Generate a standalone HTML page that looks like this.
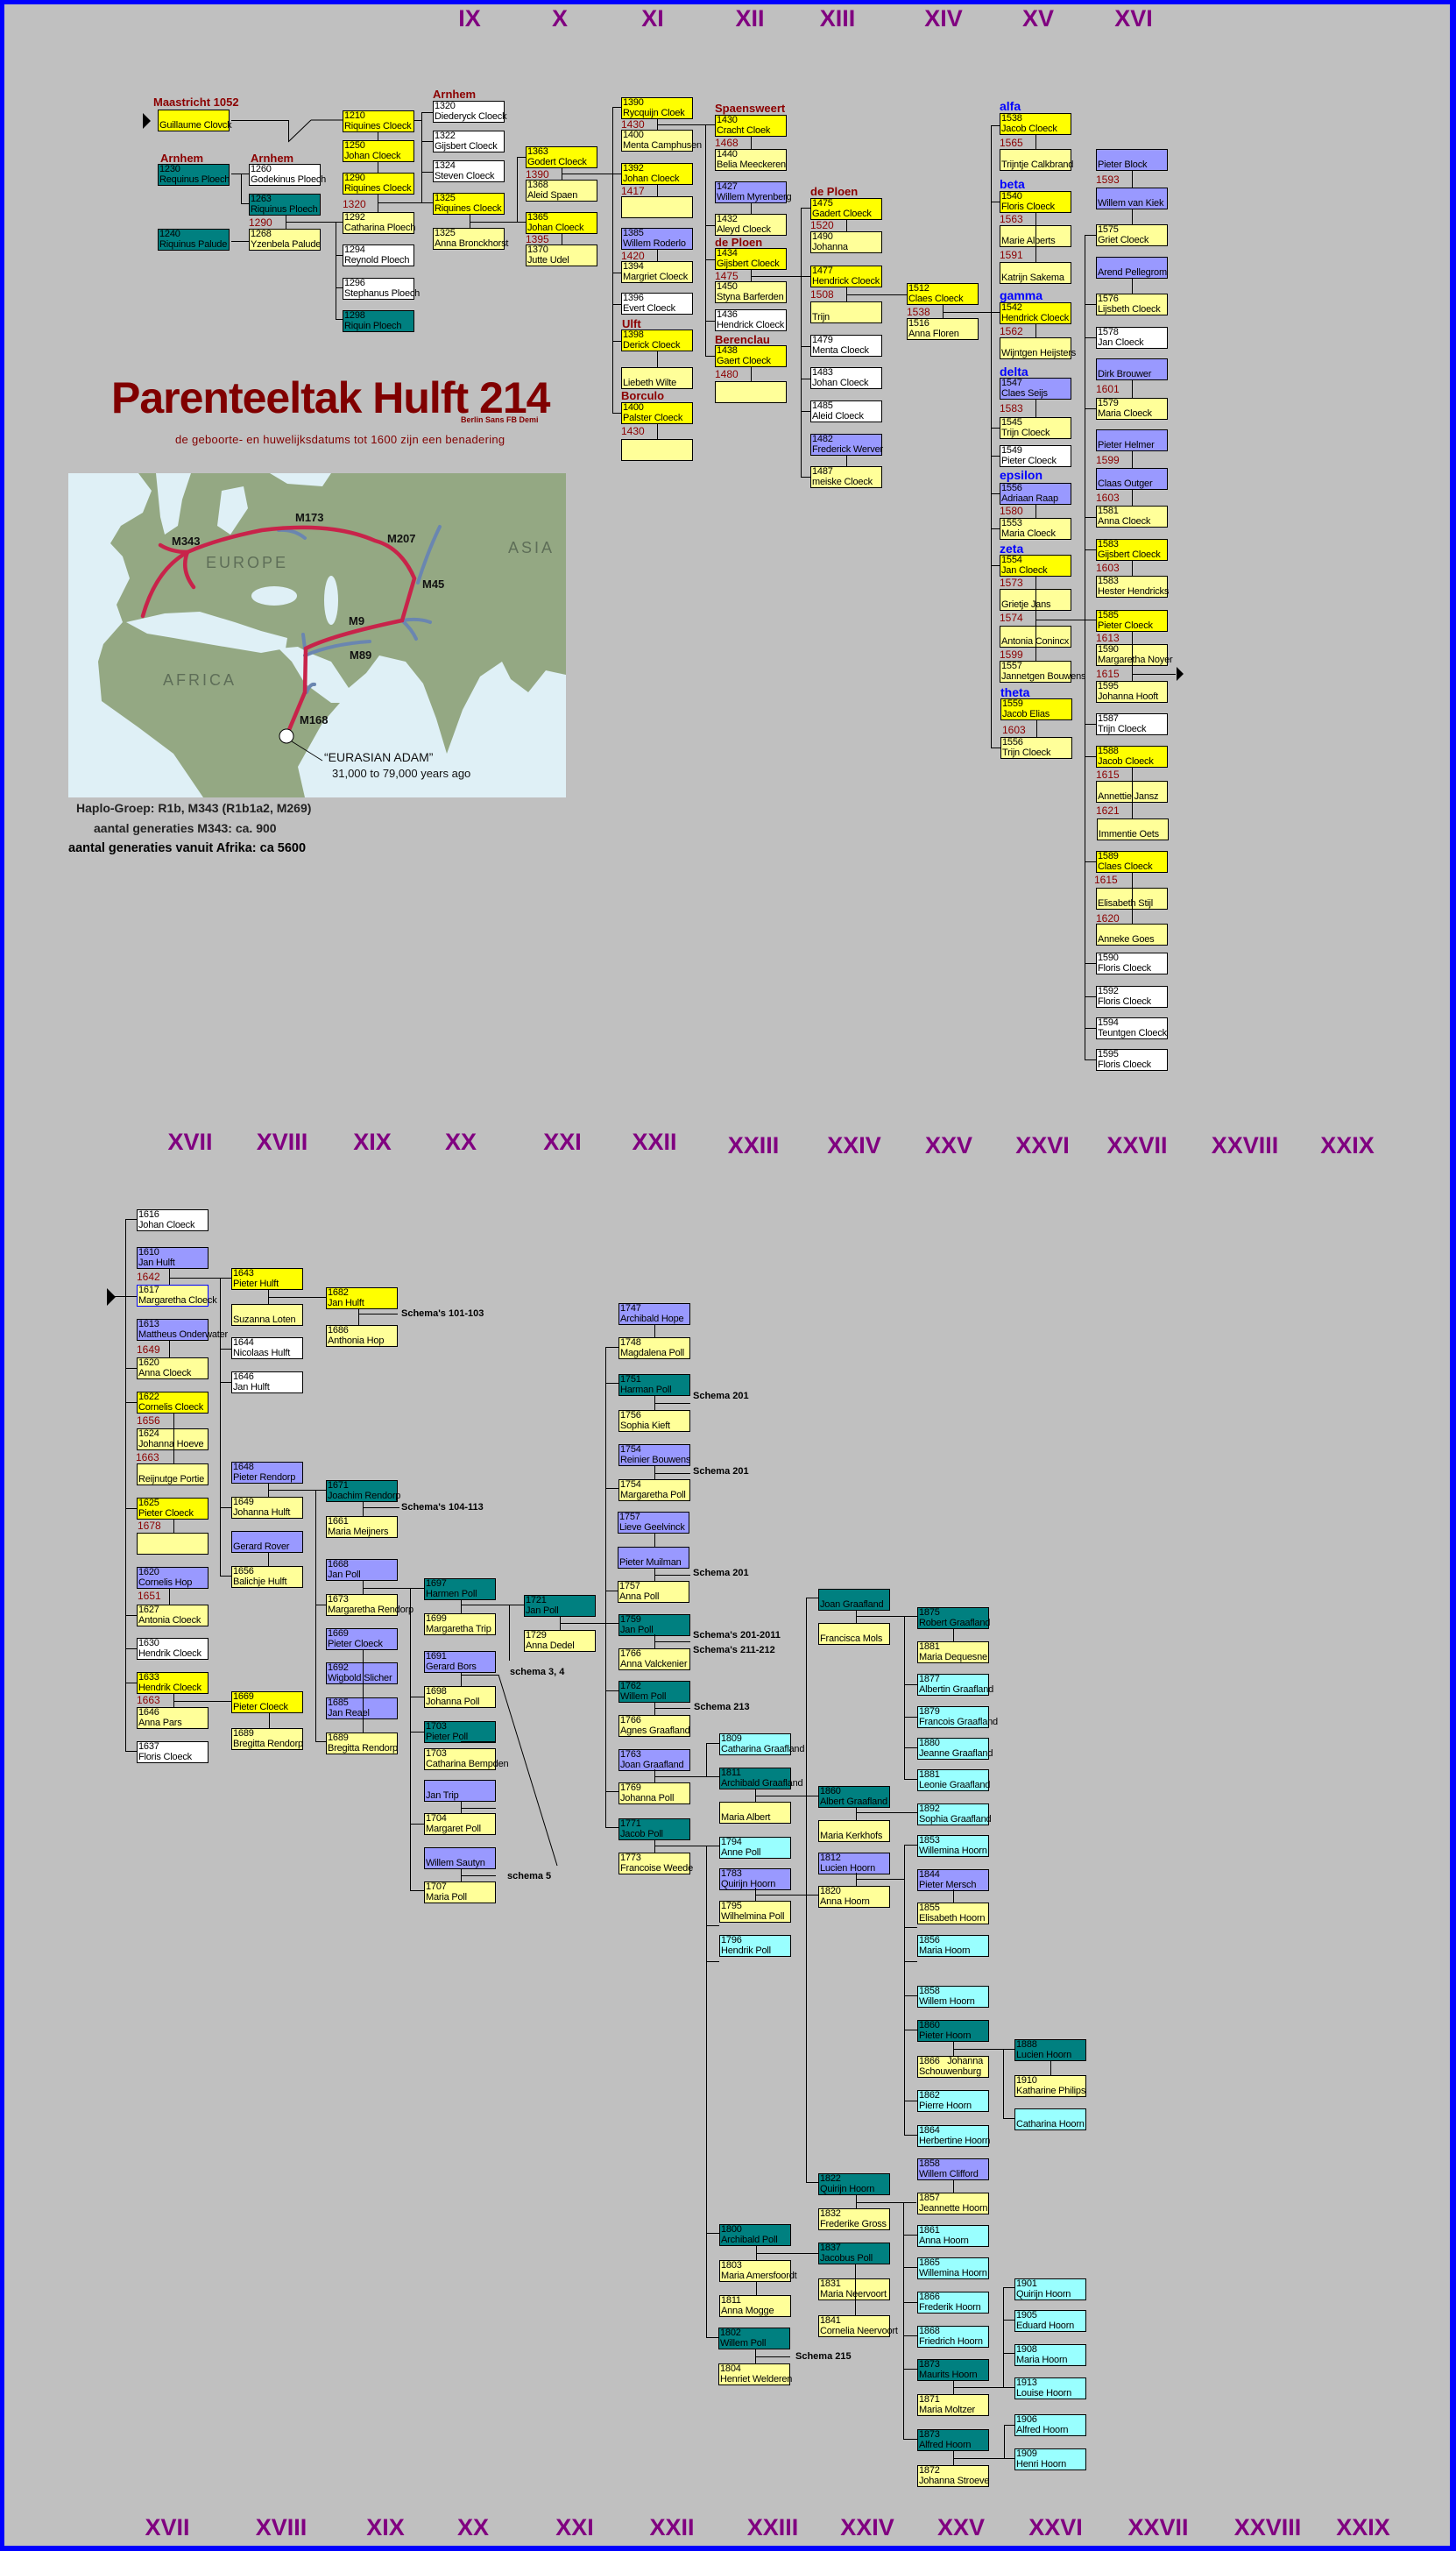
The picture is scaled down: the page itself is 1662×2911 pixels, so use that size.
<!DOCTYPE html>
<html><head><meta charset="utf-8">
<style>
*{margin:0;padding:0;box-sizing:border-box}
body{width:1662px;height:2911px;background:#0000ff;overflow:hidden;position:relative;font-family:"Liberation Sans",sans-serif}
#pg{position:absolute;left:5px;top:5px;width:1650px;height:2900px;background:#c0c0c0;overflow:hidden}
.a{position:absolute}
.b{position:absolute;width:82px;height:25px;border:1px solid #000;font-size:11px;line-height:11.5px;white-space:nowrap;padding-left:1px;color:#000;letter-spacing:-0.2px}
.y{background:#ffff00}.l{background:#ffff99}.w{background:#fff}.p{background:#9999ff}.t{background:#008080}.c{background:#99ffff}
.h{position:absolute;height:1px;background:#000}
.v{position:absolute;width:1px;background:#000}
.d{position:absolute;font-size:12px;color:#8b0000;line-height:14px}
.s{position:absolute;font-size:13px;font-weight:bold;color:#8b0000;font-family:"Liberation Sans Narrow","Liberation Sans",sans-serif;line-height:14px}
.g{position:absolute;font-size:14px;font-weight:bold;color:#0000ff;line-height:14px}
.r{position:absolute;width:120px;text-align:center;font-size:27px;font-weight:bold;color:#800080;line-height:28px}
.k{position:absolute;font-size:11px;font-weight:bold;color:#000;line-height:12px;white-space:nowrap}
</style></head><body><div id="pg">
<div style="position:absolute;left:-5px;top:-5px;width:1662px;height:2911px">

<!-- roman top -->
<div class="r" style="left:476px;top:7px">IX</div>
<div class="r" style="left:579px;top:7px">X</div>
<div class="r" style="left:685px;top:7px">XI</div>
<div class="r" style="left:796px;top:7px">XII</div>
<div class="r" style="left:896px;top:7px">XIII</div>
<div class="r" style="left:1017px;top:7px">XIV</div>
<div class="r" style="left:1125px;top:7px">XV</div>
<div class="r" style="left:1234px;top:7px">XVI</div>

<!-- top-left tree -->
<div class="s" style="left:175px;top:110px">Maastricht 1052</div>
<div class="a" style="left:163px;top:129px;width:0;height:0;border-top:9px solid transparent;border-bottom:9px solid transparent;border-left:9px solid #000"></div>
<div class="b y" style="left:180px;top:125px">&nbsp;<br>Guillaume Clovck</div>
<div class="h" style="left:264px;top:137px;width:65px"></div>
<div class="v" style="left:329px;top:137px;height:25px"></div>
<svg class="a" style="left:329px;top:136px" width="64" height="28"><line x1="0" y1="26" x2="26" y2="1" stroke="#000" stroke-width="1"/><line x1="26" y1="1" x2="62" y2="1" stroke="#000" stroke-width="1"/></svg>
<div class="s" style="left:183px;top:174px">Arnhem</div>
<div class="s" style="left:286px;top:174px">Arnhem</div>
<div class="b t" style="left:180px;top:187px">1230<br>Requinus Ploech</div>
<div class="b t" style="left:180px;top:261px">1240<br>Riquinus Palude</div>
<div class="b w" style="left:284px;top:187px">1260<br>Godekinus Ploech</div>
<div class="b t" style="left:284px;top:221px">1263<br>Riquinus Ploech</div>
<div class="d" style="left:284px;top:247px">1290</div>
<div class="b l" style="left:284px;top:261px">1268<br>Yzenbela Palude</div>
<div class="h" style="left:264px;top:198px;width:20px"></div>
<div class="h" style="left:264px;top:275px;width:20px"></div>
<div class="v" style="left:275px;top:198px;height:34px"></div>
<div class="h" style="left:275px;top:232px;width:9px"></div>
<div class="v" style="left:326px;top:246px;height:15px"></div>
<div class="h" style="left:326px;top:253px;width:65px"></div>

<div class="b y" style="left:391px;top:126px">1210<br>Riquines Cloeck</div>
<div class="b y" style="left:391px;top:160px">1250<br>Johan Cloeck</div>
<div class="b y" style="left:391px;top:197px">1290<br>Riquines Cloeck</div>
<div class="d" style="left:391px;top:226px">1320</div>
<div class="b l" style="left:391px;top:242px">1292<br>Catharina Ploech</div>
<div class="b w" style="left:391px;top:279px">1294<br>Reynold Ploech</div>
<div class="b w" style="left:391px;top:317px">1296<br>Stephanus Ploech</div>
<div class="b t" style="left:391px;top:354px">1298<br>Riquin Ploech</div>
<div class="v" style="left:431px;top:151px;height:9px"></div>
<div class="v" style="left:431px;top:185px;height:12px"></div>
<div class="v" style="left:431px;top:222px;height:20px"></div>
<div class="v" style="left:383px;top:253px;height:111px"></div>
<div class="h" style="left:383px;top:291px;width:8px"></div>
<div class="h" style="left:383px;top:328px;width:8px"></div>
<div class="h" style="left:383px;top:364px;width:8px"></div>

<div class="s" style="left:494px;top:101px">Arnhem</div>
<div class="b w" style="left:494px;top:115px">1320<br>Diederyck Cloeck</div>
<div class="b w" style="left:494px;top:149px">1322<br>Gijsbert Cloeck</div>
<div class="b w" style="left:494px;top:183px">1324<br>Steven Cloeck</div>
<div class="b y" style="left:494px;top:220px">1325<br>Riquines Cloeck</div>
<div class="b l" style="left:494px;top:260px">1325<br>Anna Bronckhorst</div>
<div class="h" style="left:473px;top:137px;width:8px"></div>
<div class="v" style="left:481px;top:128px;height:104px"></div>
<div class="h" style="left:481px;top:128px;width:13px"></div>
<div class="h" style="left:481px;top:161px;width:13px"></div>
<div class="h" style="left:481px;top:196px;width:13px"></div>
<div class="h" style="left:431px;top:231px;width:63px"></div>
<div class="v" style="left:536px;top:245px;height:15px"></div>
<div class="h" style="left:536px;top:253px;width:64px"></div>

<div class="b y" style="left:600px;top:167px">1363<br>Godert Cloeck</div>
<div class="d" style="left:600px;top:192px">1390</div>
<div class="b l" style="left:600px;top:205px">1368<br>Aleid Spaen</div>
<div class="b y" style="left:600px;top:242px">1365<br>Johan Cloeck</div>
<div class="d" style="left:600px;top:266px">1395</div>
<div class="b l" style="left:600px;top:279px">1370<br>Jutte Udel</div>
<div class="v" style="left:590px;top:179px;height:74px"></div>
<div class="h" style="left:590px;top:179px;width:10px"></div>
<div class="v" style="left:641px;top:192px;height:13px"></div>
<div class="v" style="left:641px;top:267px;height:12px"></div>
<div class="h" style="left:641px;top:198px;width:68px"></div>

<!-- XI -->
<div class="b y" style="left:709px;top:111px">1390<br>Rycquijn Cloek</div>
<div class="d" style="left:709px;top:135px">1430</div>
<div class="b l" style="left:709px;top:148px">1400<br>Menta Camphusen</div>
<div class="b y" style="left:709px;top:186px">1392<br>Johan Cloeck</div>
<div class="d" style="left:709px;top:211px">1417</div>
<div class="b l" style="left:709px;top:224px"></div>
<div class="b p" style="left:709px;top:260px">1385<br>Willem Roderlo</div>
<div class="d" style="left:709px;top:285px">1420</div>
<div class="b l" style="left:709px;top:298px">1394<br>Margriet Cloeck</div>
<div class="b w" style="left:709px;top:334px">1396<br>Evert Cloeck</div>
<div class="s" style="left:710px;top:363px">Ulft</div>
<div class="b y" style="left:709px;top:376px">1398<br>Derick Cloeck</div>
<div class="b l" style="left:709px;top:419px">&nbsp;<br>Liebeth Wilte</div>
<div class="s" style="left:709px;top:445px">Borculo</div>
<div class="b y" style="left:709px;top:459px">1400<br>Palster Cloeck</div>
<div class="d" style="left:709px;top:485px">1430</div>
<div class="b l" style="left:709px;top:501px"></div>
<div class="v" style="left:699px;top:122px;height:350px"></div>
<div class="h" style="left:699px;top:122px;width:10px"></div>
<div class="h" style="left:699px;top:311px;width:10px"></div>
<div class="h" style="left:699px;top:347px;width:10px"></div>
<div class="h" style="left:699px;top:389px;width:10px"></div>
<div class="h" style="left:699px;top:471px;width:10px"></div>
<div class="v" style="left:750px;top:136px;height:12px"></div>
<div class="v" style="left:750px;top:211px;height:13px"></div>
<div class="v" style="left:750px;top:285px;height:13px"></div>
<div class="v" style="left:750px;top:401px;height:18px"></div>
<div class="v" style="left:750px;top:484px;height:17px"></div>
<div class="h" style="left:750px;top:142px;width:66px"></div>

<!-- XII -->
<div class="s" style="left:816px;top:117px">Spaensweert</div>
<div class="b y" style="left:816px;top:131px">1430<br>Cracht Cloek</div>
<div class="d" style="left:816px;top:156px">1468</div>
<div class="b l" style="left:816px;top:170px">1440<br>Belia Meeckeren</div>
<div class="b p" style="left:816px;top:207px">1427<br>Willem Myrenberg</div>
<div class="b l" style="left:816px;top:244px">1432<br>Aleyd Cloeck</div>
<div class="s" style="left:816px;top:270px">de Ploen</div>
<div class="b y" style="left:816px;top:283px">1434<br>Gijsbert Cloeck</div>
<div class="d" style="left:816px;top:308px">1475</div>
<div class="b l" style="left:816px;top:321px">1450<br>Styna Barferden</div>
<div class="b w" style="left:816px;top:353px">1436<br>Hendrick Cloeck</div>
<div class="s" style="left:816px;top:381px">Berenclau</div>
<div class="b y" style="left:816px;top:394px">1438<br>Gaert Cloeck</div>
<div class="d" style="left:816px;top:420px">1480</div>
<div class="b l" style="left:816px;top:435px"></div>
<div class="v" style="left:805px;top:143px;height:264px"></div>
<div class="h" style="left:805px;top:257px;width:11px"></div>
<div class="h" style="left:805px;top:296px;width:11px"></div>
<div class="h" style="left:805px;top:366px;width:11px"></div>
<div class="h" style="left:805px;top:406px;width:11px"></div>
<div class="v" style="left:857px;top:155px;height:15px"></div>
<div class="v" style="left:857px;top:232px;height:12px"></div>
<div class="v" style="left:857px;top:308px;height:13px"></div>
<div class="v" style="left:857px;top:419px;height:16px"></div>
<div class="h" style="left:857px;top:315px;width:68px"></div>

<!-- XIII -->
<div class="s" style="left:925px;top:212px">de Ploen</div>
<div class="b y" style="left:925px;top:226px">1475<br>Gadert Cloeck</div>
<div class="d" style="left:925px;top:250px">1520</div>
<div class="b l" style="left:925px;top:264px">1490<br>Johanna</div>
<div class="b y" style="left:925px;top:303px">1477<br>Hendrick Cloeck</div>
<div class="d" style="left:925px;top:329px">1508</div>
<div class="b l" style="left:925px;top:344px">&nbsp;<br>Trijn</div>
<div class="b w" style="left:925px;top:382px">1479<br>Menta Cloeck</div>
<div class="b w" style="left:925px;top:419px">1483<br>Johan Cloeck</div>
<div class="b w" style="left:925px;top:457px">1485<br>Aleid Cloeck</div>
<div class="b p" style="left:925px;top:495px">1482<br>Frederick Werver</div>
<div class="b l" style="left:925px;top:532px">1487<br>meiske Cloeck</div>
<div class="v" style="left:914px;top:237px;height:307px"></div>
<div class="h" style="left:914px;top:237px;width:11px"></div>
<div class="h" style="left:914px;top:395px;width:11px"></div>
<div class="h" style="left:914px;top:432px;width:11px"></div>
<div class="h" style="left:914px;top:469px;width:11px"></div>
<div class="h" style="left:914px;top:544px;width:11px"></div>
<div class="v" style="left:966px;top:251px;height:13px"></div>
<div class="v" style="left:966px;top:327px;height:17px"></div>
<div class="v" style="left:966px;top:520px;height:12px"></div>
<div class="h" style="left:966px;top:336px;width:69px"></div>

<!-- XIV -->
<div class="b y" style="left:1035px;top:323px">1512<br>Claes Cloeck</div>
<div class="d" style="left:1035px;top:349px">1538</div>
<div class="b l" style="left:1035px;top:363px">1516<br>Anna Floren</div>
<div class="v" style="left:1076px;top:348px;height:15px"></div>
<div class="h" style="left:1076px;top:356px;width:65px"></div>

<!-- XV -->
<div class="g" style="left:1141px;top:114px">alfa</div>
<div class="b y" style="left:1141px;top:129px">1538<br>Jacob Cloeck</div>
<div class="d" style="left:1141px;top:156px">1565</div>
<div class="b l" style="left:1141px;top:170px">&nbsp;<br>Trijntje Calkbrand</div>
<div class="g" style="left:1141px;top:203px">beta</div>
<div class="b y" style="left:1141px;top:218px">1540<br>Floris Cloeck</div>
<div class="d" style="left:1141px;top:243px">1563</div>
<div class="b l" style="left:1141px;top:257px">&nbsp;<br>Marie Alberts</div>
<div class="d" style="left:1141px;top:284px">1591</div>
<div class="b l" style="left:1141px;top:299px">&nbsp;<br>Katrijn Sakema</div>
<div class="g" style="left:1141px;top:330px">gamma</div>
<div class="b y" style="left:1141px;top:345px">1542<br>Hendrick Cloeck</div>
<div class="d" style="left:1141px;top:371px">1562</div>
<div class="b l" style="left:1141px;top:385px">&nbsp;<br>Wijntgen Heijsters</div>
<div class="g" style="left:1141px;top:417px">delta</div>
<div class="b p" style="left:1141px;top:431px">1547<br>Claes Seijs</div>
<div class="d" style="left:1141px;top:459px">1583</div>
<div class="b l" style="left:1141px;top:476px">1545<br>Trijn Cloeck</div>
<div class="b w" style="left:1141px;top:508px">1549<br>Pieter Cloeck</div>
<div class="g" style="left:1141px;top:535px">epsilon</div>
<div class="b p" style="left:1141px;top:551px">1556<br>Adriaan Raap</div>
<div class="d" style="left:1141px;top:576px">1580</div>
<div class="b l" style="left:1141px;top:591px">1553<br>Maria Cloeck</div>
<div class="g" style="left:1141px;top:619px">zeta</div>
<div class="b y" style="left:1141px;top:633px">1554<br>Jan Cloeck</div>
<div class="d" style="left:1141px;top:658px">1573</div>
<div class="b l" style="left:1141px;top:672px">&nbsp;<br>Grietje Jans</div>
<div class="d" style="left:1141px;top:698px">1574</div>
<div class="b l" style="left:1141px;top:714px">&nbsp;<br>Antonia Conincx</div>
<div class="d" style="left:1141px;top:740px">1599</div>
<div class="b l" style="left:1141px;top:754px">1557<br>Jannetgen Bouwens</div>
<div class="g" style="left:1142px;top:783px">theta</div>
<div class="b y" style="left:1142px;top:797px">1559<br>Jacob Elias</div>
<div class="d" style="left:1144px;top:826px">1603</div>
<div class="b l" style="left:1142px;top:841px">1556<br>Trijn Cloeck</div>
<div class="v" style="left:1131px;top:143px;height:710px"></div>
<div class="h" style="left:1131px;top:143px;width:10px"></div>
<div class="h" style="left:1131px;top:230px;width:10px"></div>
<div class="h" style="left:1131px;top:488px;width:10px"></div>
<div class="h" style="left:1131px;top:520px;width:10px"></div>
<div class="h" style="left:1131px;top:563px;width:10px"></div>
<div class="h" style="left:1131px;top:603px;width:10px"></div>
<div class="h" style="left:1131px;top:645px;width:10px"></div>
<div class="h" style="left:1131px;top:853px;width:11px"></div>
<div class="v" style="left:1182px;top:154px;height:16px"></div>
<div class="v" style="left:1182px;top:242px;height:57px"></div>
<div class="v" style="left:1182px;top:369px;height:16px"></div>
<div class="v" style="left:1182px;top:456px;height:20px"></div>
<div class="v" style="left:1182px;top:575px;height:16px"></div>
<div class="v" style="left:1182px;top:658px;height:96px"></div>
<div class="v" style="left:1183px;top:822px;height:19px"></div>
<div class="h" style="left:1182px;top:707px;width:69px"></div>

<!-- XVI -->
<div class="b p" style="left:1251px;top:170px">&nbsp;<br>Pieter Block</div>
<div class="d" style="left:1251px;top:198px">1593</div>
<div class="b p" style="left:1251px;top:214px">&nbsp;<br>Willem van Kiek</div>
<div class="b l" style="left:1251px;top:256px">1575<br>Griet Cloeck</div>
<div class="b p" style="left:1251px;top:293px">&nbsp;<br>Arend Pellegrom</div>
<div class="b l" style="left:1251px;top:335px">1576<br>Lijsbeth Cloeck</div>
<div class="b w" style="left:1251px;top:373px">1578<br>Jan Cloeck</div>
<div class="b p" style="left:1251px;top:409px">&nbsp;<br>Dirk Brouwer</div>
<div class="d" style="left:1251px;top:437px">1601</div>
<div class="b l" style="left:1251px;top:454px">1579<br>Maria Cloeck</div>
<div class="b p" style="left:1251px;top:490px">&nbsp;<br>Pieter Helmer</div>
<div class="d" style="left:1251px;top:518px">1599</div>
<div class="b p" style="left:1251px;top:534px">&nbsp;<br>Claas Outger</div>
<div class="d" style="left:1251px;top:561px">1603</div>
<div class="b l" style="left:1251px;top:577px">1581<br>Anna Cloeck</div>
<div class="b y" style="left:1251px;top:615px">1583<br>Gijsbert Cloeck</div>
<div class="d" style="left:1251px;top:641px">1603</div>
<div class="b l" style="left:1251px;top:657px">1583<br>Hester Hendricks</div>
<div class="b y" style="left:1251px;top:696px">1585<br>Pieter Cloeck</div>
<div class="d" style="left:1251px;top:721px">1613</div>
<div class="b l" style="left:1251px;top:735px">1590<br>Margaretha Noyer</div>
<div class="d" style="left:1251px;top:762px">1615</div>
<div class="b l" style="left:1251px;top:777px">1595<br>Johanna Hooft</div>
<div class="b w" style="left:1251px;top:814px">1587<br>Trijn Cloeck</div>
<div class="b y" style="left:1251px;top:851px">1588<br>Jacob Cloeck</div>
<div class="d" style="left:1251px;top:877px">1615</div>
<div class="b l" style="left:1251px;top:891px">&nbsp;<br>Annettie Jansz</div>
<div class="d" style="left:1251px;top:918px">1621</div>
<div class="b l" style="left:1252px;top:934px">&nbsp;<br>Immentie Oets</div>
<div class="b y" style="left:1251px;top:971px">1589<br>Claes Cloeck</div>
<div class="d" style="left:1249px;top:997px">1615</div>
<div class="b l" style="left:1251px;top:1013px">&nbsp;<br>Elisabeth Stijl</div>
<div class="d" style="left:1251px;top:1041px">1620</div>
<div class="b l" style="left:1251px;top:1054px">&nbsp;<br>Anneke Goes</div>
<div class="b w" style="left:1251px;top:1087px">1590<br>Floris Cloeck</div>
<div class="b w" style="left:1251px;top:1125px">1592<br>Floris Cloeck</div>
<div class="b w" style="left:1251px;top:1161px">1594<br>Teuntgen Cloeck</div>
<div class="b w" style="left:1251px;top:1197px">1595<br>Floris Cloeck</div>
<div class="v" style="left:1238px;top:268px;height:941px"></div>
<div class="h" style="left:1238px;top:268px;width:13px"></div>
<div class="h" style="left:1238px;top:347px;width:13px"></div>
<div class="h" style="left:1238px;top:385px;width:13px"></div>
<div class="h" style="left:1238px;top:466px;width:13px"></div>
<div class="h" style="left:1238px;top:590px;width:13px"></div>
<div class="h" style="left:1238px;top:627px;width:13px"></div>
<div class="h" style="left:1238px;top:826px;width:13px"></div>
<div class="h" style="left:1238px;top:863px;width:13px"></div>
<div class="h" style="left:1238px;top:983px;width:13px"></div>
<div class="h" style="left:1238px;top:1099px;width:13px"></div>
<div class="h" style="left:1238px;top:1137px;width:13px"></div>
<div class="h" style="left:1238px;top:1173px;width:13px"></div>
<div class="h" style="left:1238px;top:1209px;width:13px"></div>
<div class="v" style="left:1292px;top:195px;height:19px"></div>
<div class="v" style="left:1292px;top:239px;height:17px"></div>
<div class="v" style="left:1292px;top:318px;height:17px"></div>
<div class="v" style="left:1292px;top:434px;height:20px"></div>
<div class="v" style="left:1292px;top:515px;height:19px"></div>
<div class="v" style="left:1292px;top:558px;height:19px"></div>
<div class="v" style="left:1292px;top:639px;height:18px"></div>
<div class="v" style="left:1292px;top:721px;height:56px"></div>
<div class="v" style="left:1292px;top:876px;height:58px"></div>
<div class="v" style="left:1292px;top:996px;height:58px"></div>
<div class="h" style="left:1292px;top:769px;width:50px"></div>
<div class="a" style="left:1343px;top:761px;width:0;height:0;border-top:8px solid transparent;border-bottom:8px solid transparent;border-left:8px solid #000"></div>

<!-- title -->
<div class="a" style="left:127px;top:426px;width:600px;font-size:50px;font-weight:bold;color:#800000;line-height:56px;white-space:nowrap;transform:scaleX(1);transform-origin:0 0;letter-spacing:-1px">Parenteeltak Hulft 214</div>
<div class="a" style="left:526px;top:474px;font-size:9px;font-weight:bold;color:#800000;white-space:nowrap">Berlin Sans FB Demi</div>
<div class="a" style="left:200px;top:494px;font-size:13px;color:#800000;white-space:nowrap;font-family:'Liberation Sans Narrow','Liberation Sans',sans-serif;letter-spacing:0.3px">de geboorte- en huwelijksdatums tot 1600 zijn een benadering</div>

<!-- map -->
<svg class="a" style="left:78px;top:540px" width="568" height="370" viewBox="0 0 568 370">
<rect width="568" height="370" fill="#94a883"/>
<polygon fill="#dff0f6" points="0,0 80,0 95,20 85,45 60,60 48,80 62,95 70,120 55,150 62,170 40,195 34,215 38,260 80,290 120,320 154,370 0,370"/>
<polygon fill="#dff0f6" points="100,0 140,0 130,30 125,60 110,70 105,50"/>
<polygon fill="#dff0f6" points="175,20 200,15 205,40 185,70 170,60"/>
<polygon fill="#dff0f6" points="230,0 300,0 290,15 250,12"/>
<polygon fill="#dff0f6" points="66,170 110,160 150,158 190,170 220,180 250,188 248,200 220,205 190,200 160,195 120,188 90,183"/>
<ellipse cx="235" cy="140" rx="26" ry="11" fill="#dff0f6"/>
<ellipse cx="300" cy="145" rx="8" ry="28" fill="#dff0f6"/>
<polygon fill="#dff0f6" points="240,200 255,215 270,240 300,262 310,262 290,285 262,335 270,370 568,370 568,230 545,225 525,250 505,235 495,215 470,232 450,270 432,320 420,280 405,240 385,215 355,208 340,228 320,245 300,215 275,205 262,198"/>
<polygon fill="#dff0f6" points="480,300 530,320 560,340 520,345 490,320"/>
<g fill="none" stroke="#6a86b0" stroke-width="4" stroke-linecap="round">
<path d="M424,61 Q410,90 399,125"/>
<path d="M381,168 Q400,165 413,170"/>
<path d="M381,168 Q392,178 397,189"/>
<path d="M270,208 Q300,195 344,192"/>
<path d="M268,184 L270,200"/>
<path d="M272,250 Q276,240 281,241"/>
<path d="M240,65 Q258,64 270,74"/>
</g>
<g fill="none" stroke="#c8234a" stroke-width="4.5" stroke-linecap="round">
<path d="M249,300 L270,250 L271,200 Q300,185 381,168 L395,120 Q380,85 350,77 Q300,55 221,65 Q170,75 136,90"/>
<path d="M136,90 Q100,110 85,163"/>
<path d="M136,90 Q128,110 143,130"/>
<path d="M136,90 Q118,90 105,82"/>
</g>
<circle cx="249" cy="300" r="8" fill="#fff" stroke="#000" stroke-width="1"/>
<line x1="255" y1="306" x2="290" y2="328" stroke="#000" stroke-width="0.8"/>
<g font-family="Liberation Sans, sans-serif" font-weight="bold" font-size="13" fill="#111">
<text x="118" y="82">M343</text><text x="259" y="55">M173</text><text x="364" y="79">M207</text><text x="404" y="131">M45</text><text x="320" y="173">M9</text><text x="321" y="212">M89</text><text x="264" y="286">M168</text>
</g>
<g font-family="Liberation Sans, sans-serif" font-size="18" fill="#5e6e58" letter-spacing="3">
<text x="157" y="108">EUROPE</text><text x="502" y="91">ASIA</text><text x="108" y="242">AFRICA</text>
</g>
<text x="292" y="329" font-family="Liberation Sans Narrow, Liberation Sans, sans-serif" font-size="14" fill="#111">“EURASIAN ADAM”</text>
<text x="301" y="347" font-family="Liberation Sans Narrow, Liberation Sans, sans-serif" font-size="13" fill="#111">31,000 to 79,000 years ago</text>
</svg>
<div class="a" style="left:87px;top:914px;font-size:14px;font-family:'Liberation Sans Narrow','Liberation Sans',sans-serif;font-weight:bold;color:#222;white-space:nowrap">Haplo-Groep: R1b, M343 (R1b1a2, M269)</div>
<div class="a" style="left:107px;top:937px;font-size:14px;font-family:'Liberation Sans Narrow','Liberation Sans',sans-serif;font-weight:bold;color:#222;white-space:nowrap">aantal generaties M343: ca. 900</div>
<div class="a" style="left:78px;top:960px;font-size:14.5px;font-family:'Liberation Sans Narrow','Liberation Sans',sans-serif;font-weight:bold;color:#000;white-space:nowrap">aantal generaties vanuit Afrika: ca 5600</div>

<!-- roman middle -->
<div class="r" style="left:157px;top:1289px">XVII</div>
<div class="r" style="left:262px;top:1289px">XVIII</div>
<div class="r" style="left:365px;top:1289px">XIX</div>
<div class="r" style="left:466px;top:1289px">XX</div>
<div class="r" style="left:582px;top:1289px">XXI</div>
<div class="r" style="left:687px;top:1289px">XXII</div>
<div class="r" style="left:800px;top:1293px">XXIII</div>
<div class="r" style="left:915px;top:1293px">XXIV</div>
<div class="r" style="left:1023px;top:1293px">XXV</div>
<div class="r" style="left:1130px;top:1293px">XXVI</div>
<div class="r" style="left:1238px;top:1293px">XXVII</div>
<div class="r" style="left:1361px;top:1293px">XXVIII</div>
<div class="r" style="left:1478px;top:1293px">XXIX</div>

<!-- roman bottom -->
<div class="r" style="left:131px;top:2870px">XVII</div>
<div class="r" style="left:261px;top:2870px">XVIII</div>
<div class="r" style="left:380px;top:2870px">XIX</div>
<div class="r" style="left:480px;top:2870px">XX</div>
<div class="r" style="left:596px;top:2870px">XXI</div>
<div class="r" style="left:707px;top:2870px">XXII</div>
<div class="r" style="left:822px;top:2870px">XXIII</div>
<div class="r" style="left:930px;top:2870px">XXIV</div>
<div class="r" style="left:1037px;top:2870px">XXV</div>
<div class="r" style="left:1145px;top:2870px">XXVI</div>
<div class="r" style="left:1262px;top:2870px">XXVII</div>
<div class="r" style="left:1387px;top:2870px">XXVIII</div>
<div class="r" style="left:1496px;top:2870px">XXIX</div>

<!-- XVII -->
<div class="a" style="left:122px;top:1470px;width:0;height:0;border-top:10px solid transparent;border-bottom:10px solid transparent;border-left:10px solid #000"></div>
<div class="h" style="left:131px;top:1479px;width:25px"></div>
<div class="b w" style="left:156px;top:1380px">1616<br>Johan Cloeck</div>
<div class="b p" style="left:156px;top:1423px">1610<br>Jan Hulft</div>
<div class="d" style="left:156px;top:1450px">1642</div>
<div class="b l" style="left:156px;top:1466px;border:1.5px solid #0000ff">1617<br>Margaretha Cloeck</div>
<div class="b p" style="left:156px;top:1505px">1613<br>Mattheus Onderwater</div>
<div class="d" style="left:156px;top:1533px">1649</div>
<div class="b l" style="left:156px;top:1549px">1620<br>Anna Cloeck</div>
<div class="b y" style="left:156px;top:1588px">1622<br>Cornelis Cloeck</div>
<div class="d" style="left:156px;top:1614px">1656</div>
<div class="b l" style="left:156px;top:1630px">1624<br>Johanna Hoeve</div>
<div class="d" style="left:155px;top:1656px">1663</div>
<div class="b l" style="left:156px;top:1670px">&nbsp;<br>Reijnutge Portie</div>
<div class="b y" style="left:156px;top:1709px">1625<br>Pieter Cloeck</div>
<div class="d" style="left:157px;top:1734px">1678</div>
<div class="b l" style="left:156px;top:1749px"></div>
<div class="b p" style="left:156px;top:1788px">1620<br>Cornelis Hop</div>
<div class="d" style="left:157px;top:1814px">1651</div>
<div class="b l" style="left:156px;top:1831px">1627<br>Antonia Cloeck</div>
<div class="b w" style="left:156px;top:1869px">1630<br>Hendrik Cloeck</div>
<div class="b y" style="left:156px;top:1908px">1633<br>Hendrik Cloeck</div>
<div class="d" style="left:156px;top:1933px">1663</div>
<div class="b l" style="left:156px;top:1948px">1646<br>Anna Pars</div>
<div class="b w" style="left:156px;top:1987px">1637<br>Floris Cloeck</div>
<div class="v" style="left:143px;top:1391px;height:608px"></div>
<div class="h" style="left:143px;top:1391px;width:13px"></div>
<div class="h" style="left:143px;top:1561px;width:13px"></div>
<div class="h" style="left:143px;top:1600px;width:13px"></div>
<div class="h" style="left:143px;top:1721px;width:13px"></div>
<div class="h" style="left:143px;top:1843px;width:13px"></div>
<div class="h" style="left:143px;top:1881px;width:13px"></div>
<div class="h" style="left:143px;top:1920px;width:13px"></div>
<div class="h" style="left:143px;top:1998px;width:13px"></div>
<div class="v" style="left:193px;top:1448px;height:18px"></div>
<div class="v" style="left:193px;top:1530px;height:19px"></div>
<div class="v" style="left:198px;top:1613px;height:57px"></div>
<div class="v" style="left:198px;top:1734px;height:15px"></div>
<div class="v" style="left:193px;top:1813px;height:18px"></div>
<div class="v" style="left:198px;top:1933px;height:15px"></div>
<div class="h" style="left:193px;top:1458px;width:71px"></div>
<div class="h" style="left:198px;top:1941px;width:66px"></div>

<!-- XVIII -->
<div class="b y" style="left:264px;top:1447px">1643<br>Pieter Hulft</div>
<div class="b l" style="left:264px;top:1488px">&nbsp;<br>Suzanna Loten</div>
<div class="b w" style="left:264px;top:1526px">1644<br>Nicolaas Hulft</div>
<div class="b w" style="left:264px;top:1565px">1646<br>Jan Hulft</div>
<div class="b p" style="left:264px;top:1668px">1648<br>Pieter Rendorp</div>
<div class="b l" style="left:264px;top:1708px">1649<br>Johanna Hulft</div>
<div class="b p" style="left:264px;top:1747px">&nbsp;<br>Gerard Rover</div>
<div class="b l" style="left:264px;top:1787px">1656<br>Balichje Hulft</div>
<div class="b y" style="left:264px;top:1930px">1669<br>Pieter Cloeck</div>
<div class="b l" style="left:264px;top:1972px">1689<br>Bregitta Rendorp</div>
<div class="v" style="left:251px;top:1458px;height:341px"></div>
<div class="h" style="left:251px;top:1539px;width:13px"></div>
<div class="h" style="left:251px;top:1577px;width:13px"></div>
<div class="h" style="left:251px;top:1720px;width:13px"></div>
<div class="h" style="left:251px;top:1798px;width:13px"></div>
<div class="v" style="left:306px;top:1471px;height:17px"></div>
<div class="v" style="left:306px;top:1692px;height:16px"></div>
<div class="v" style="left:306px;top:1772px;height:15px"></div>
<div class="v" style="left:307px;top:1955px;height:17px"></div>
<div class="h" style="left:306px;top:1480px;width:66px"></div>
<div class="h" style="left:306px;top:1700px;width:66px"></div>

<!-- XIX -->
<div class="b y" style="left:372px;top:1469px">1682<br>Jan Hulft</div>
<div class="b l" style="left:372px;top:1512px">1686<br>Anthonia Hop</div>
<div class="v" style="left:409px;top:1493px;height:19px"></div>
<div class="h" style="left:409px;top:1499px;width:45px"></div>
<div class="k" style="left:458px;top:1493px">Schema's 101-103</div>
<div class="b t" style="left:372px;top:1689px">1671<br>Joachim Rendorp</div>
<div class="b l" style="left:372px;top:1730px">1661<br>Maria Meijners</div>
<div class="v" style="left:414px;top:1713px;height:17px"></div>
<div class="h" style="left:414px;top:1720px;width:42px"></div>
<div class="k" style="left:458px;top:1714px">Schema's 104-113</div>
<div class="b p" style="left:372px;top:1779px">1668<br>Jan Poll</div>
<div class="b l" style="left:372px;top:1819px">1673<br>Margaretha Rendorp</div>
<div class="b p" style="left:372px;top:1858px">1669<br>Pieter Cloeck</div>
<div class="b p" style="left:372px;top:1897px">1692<br>Wigbold Slicher</div>
<div class="b p" style="left:372px;top:1937px">1685<br>Jan Reael</div>
<div class="b l" style="left:372px;top:1977px">1689<br>Bregitta Rendorp</div>
<div class="v" style="left:360px;top:1700px;height:288px"></div>
<div class="h" style="left:360px;top:1831px;width:12px"></div>
<div class="h" style="left:360px;top:1987px;width:12px"></div>
<div class="v" style="left:414px;top:1803px;height:16px"></div>
<div class="v" style="left:414px;top:1882px;height:95px"></div>
<div class="h" style="left:414px;top:1812px;width:70px"></div>

<!-- XX -->
<div class="b t" style="left:484px;top:1801px">1697<br>Harmen Poll</div>
<div class="b l" style="left:484px;top:1841px">1699<br>Margaretha Trip</div>
<div class="b p" style="left:484px;top:1884px">1691<br>Gerard Bors</div>
<div class="b l" style="left:484px;top:1924px">1698<br>Johanna Poll</div>
<div class="b t" style="left:484px;top:1964px">1703<br>Pieter Poll</div>
<div class="b l" style="left:484px;top:1995px">1703<br>Catharina Bempden</div>
<div class="b p" style="left:484px;top:2031px">&nbsp;<br>Jan Trip</div>
<div class="b l" style="left:484px;top:2069px">1704<br>Margaret Poll</div>
<div class="b p" style="left:484px;top:2108px">&nbsp;<br>Willem Sautyn</div>
<div class="b l" style="left:484px;top:2147px">1707<br>Maria Poll</div>
<div class="v" style="left:468px;top:1812px;height:346px"></div>
<div class="h" style="left:468px;top:1936px;width:16px"></div>
<div class="h" style="left:468px;top:1976px;width:16px"></div>
<div class="h" style="left:468px;top:2081px;width:16px"></div>
<div class="h" style="left:468px;top:2157px;width:16px"></div>
<div class="v" style="left:526px;top:1825px;height:16px"></div>
<div class="v" style="left:526px;top:1909px;height:15px"></div>
<div class="v" style="left:526px;top:2055px;height:14px"></div>
<div class="v" style="left:526px;top:2132px;height:15px"></div>
<div class="h" style="left:526px;top:1911px;width:43px"></div>
<div class="h" style="left:526px;top:1987px;width:40px"></div>
<div class="h" style="left:526px;top:2063px;width:40px"></div>
<div class="h" style="left:526px;top:2140px;width:40px"></div>
<svg class="a" style="left:568px;top:1910px" width="70" height="222"><line x1="1" y1="1" x2="68" y2="219" stroke="#000" stroke-width="1"/></svg>
<div class="k" style="left:582px;top:1902px">schema 3, 4</div>
<div class="k" style="left:579px;top:2135px">schema 5</div>
<div class="h" style="left:526px;top:1831px;width:72px"></div>
<div class="v" style="left:581px;top:1831px;height:64px"></div>

<!-- XXI -->
<div class="b t" style="left:598px;top:1820px">1721<br>Jan Poll</div>
<div class="b l" style="left:598px;top:1860px">1729<br>Anna Dedel</div>
<div class="v" style="left:639px;top:1845px;height:15px"></div>
<div class="h" style="left:639px;top:1852px;width:67px"></div>

<!-- XXII -->
<div class="b p" style="left:706px;top:1487px">1747<br>Archibald Hope</div>
<div class="b l" style="left:706px;top:1526px">1748<br>Magdalena Poll</div>
<div class="b t" style="left:706px;top:1568px">1751<br>Harman Poll</div>
<div class="b l" style="left:706px;top:1609px">1756<br>Sophia Kieft</div>
<div class="b p" style="left:706px;top:1648px">1754<br>Reinier Bouwens</div>
<div class="b l" style="left:706px;top:1688px">1754<br>Margaretha Poll</div>
<div class="b p" style="left:705px;top:1725px">1757<br>Lieve Geelvinck</div>
<div class="b p" style="left:705px;top:1765px">&nbsp;<br>Pieter Muilman</div>
<div class="b l" style="left:705px;top:1804px">1757<br>Anna Poll</div>
<div class="b t" style="left:706px;top:1842px">1759<br>Jan Poll</div>
<div class="b l" style="left:706px;top:1881px">1766<br>Anna Valckenier</div>
<div class="b t" style="left:706px;top:1918px">1762<br>Willem Poll</div>
<div class="b l" style="left:706px;top:1957px">1766<br>Agnes Graafland</div>
<div class="b p" style="left:706px;top:1996px">1763<br>Joan Graafland</div>
<div class="b l" style="left:706px;top:2034px">1769<br>Johanna Poll</div>
<div class="b t" style="left:706px;top:2075px">1771<br>Jacob Poll</div>
<div class="b l" style="left:706px;top:2114px">1773<br>Francoise Weede</div>
<div class="v" style="left:691px;top:1537px;height:549px"></div>
<div class="h" style="left:691px;top:1537px;width:15px"></div>
<div class="h" style="left:691px;top:1578px;width:15px"></div>
<div class="h" style="left:691px;top:1698px;width:15px"></div>
<div class="h" style="left:691px;top:1815px;width:15px"></div>
<div class="h" style="left:691px;top:1929px;width:15px"></div>
<div class="h" style="left:691px;top:2044px;width:15px"></div>
<div class="h" style="left:691px;top:2085px;width:15px"></div>
<div class="v" style="left:747px;top:1512px;height:14px"></div>
<div class="v" style="left:747px;top:1592px;height:17px"></div>
<div class="v" style="left:747px;top:1672px;height:16px"></div>
<div class="v" style="left:747px;top:1749px;height:16px"></div>
<div class="v" style="left:747px;top:1790px;height:14px"></div>
<div class="v" style="left:747px;top:1865px;height:16px"></div>
<div class="v" style="left:747px;top:1942px;height:15px"></div>
<div class="v" style="left:747px;top:2019px;height:15px"></div>
<div class="v" style="left:747px;top:2099px;height:15px"></div>
<div class="h" style="left:747px;top:1601px;width:41px"></div>
<div class="h" style="left:747px;top:1681px;width:41px"></div>
<div class="h" style="left:747px;top:1797px;width:41px"></div>
<div class="h" style="left:747px;top:1873px;width:41px"></div>
<div class="h" style="left:747px;top:1949px;width:41px"></div>
<div class="k" style="left:791px;top:1587px">Schema 201</div>
<div class="k" style="left:791px;top:1673px">Schema 201</div>
<div class="k" style="left:791px;top:1789px">Schema 201</div>
<div class="k" style="left:791px;top:1860px">Schema's 201-2011</div>
<div class="k" style="left:791px;top:1877px">Schema's 211-212</div>
<div class="k" style="left:792px;top:1942px">Schema 213</div>

<!-- XXIII -->
<div class="b c" style="left:821px;top:1978px">1809<br>Catharina Graafland</div>
<div class="b t" style="left:821px;top:2017px">1811<br>Archibald Graafland</div>
<div class="b l" style="left:821px;top:2056px">&nbsp;<br>Maria Albert</div>
<div class="b c" style="left:821px;top:2096px">1794<br>Anne Poll</div>
<div class="b p" style="left:821px;top:2132px">1783<br>Quirijn Hoorn</div>
<div class="b l" style="left:821px;top:2169px">1795<br>Wilhelmina Poll</div>
<div class="b c" style="left:821px;top:2208px">1796<br>Hendrik Poll</div>
<div class="b t" style="left:821px;top:2538px">1800<br>Archibald Poll</div>
<div class="b l" style="left:821px;top:2579px">1803<br>Maria Amersfoordt</div>
<div class="b l" style="left:821px;top:2619px">1811<br>Anna Mogge</div>
<div class="b t" style="left:820px;top:2656px">1802<br>Willem Poll</div>
<div class="b l" style="left:820px;top:2697px">1804<br>Henriet Welderen</div>
<div class="h" style="left:747px;top:2027px;width:74px"></div>
<div class="v" style="left:806px;top:1989px;height:38px"></div>
<div class="h" style="left:806px;top:1989px;width:15px"></div>
<div class="h" style="left:747px;top:2106px;width:74px"></div>
<div class="v" style="left:806px;top:2106px;height:562px"></div>
<div class="h" style="left:806px;top:2197px;width:15px"></div>
<div class="h" style="left:806px;top:2238px;width:15px"></div>
<div class="h" style="left:806px;top:2548px;width:15px"></div>
<div class="h" style="left:806px;top:2667px;width:15px"></div>
<div class="v" style="left:862px;top:2041px;height:15px"></div>
<div class="v" style="left:862px;top:2154px;height:15px"></div>
<div class="v" style="left:863px;top:2563px;height:16px"></div>
<div class="v" style="left:863px;top:2604px;height:15px"></div>
<div class="v" style="left:862px;top:2681px;height:16px"></div>
<div class="h" style="left:862px;top:2689px;width:40px"></div>
<div class="k" style="left:908px;top:2683px">Schema 215</div>
<div class="h" style="left:863px;top:2049px;width:71px"></div>
<div class="h" style="left:863px;top:2162px;width:71px"></div>
<div class="h" style="left:863px;top:2571px;width:71px"></div>

<!-- XXIV -->
<div class="b t" style="left:934px;top:1813px">&nbsp;<br>Joan Graafland</div>
<div class="b l" style="left:934px;top:1852px">&nbsp;<br>Francisca Mols</div>
<div class="b t" style="left:934px;top:2038px">1860<br>Albert Graafland</div>
<div class="b l" style="left:934px;top:2077px">&nbsp;<br>Maria Kerkhofs</div>
<div class="b p" style="left:934px;top:2114px">1812<br>Lucien Hoorn</div>
<div class="b l" style="left:934px;top:2152px">1820<br>Anna Hoorn</div>
<div class="b t" style="left:934px;top:2480px">1822<br>Quirijn Hoorn</div>
<div class="b l" style="left:934px;top:2520px">1832<br>Frederike Gross</div>
<div class="b t" style="left:934px;top:2559px">1837<br>Jacobus Poll</div>
<div class="b l" style="left:934px;top:2600px">1831<br>Maria Neervoort</div>
<div class="b l" style="left:934px;top:2642px">1841<br>Cornelia Neervoort</div>
<div class="v" style="left:920px;top:1823px;height:668px"></div>
<div class="h" style="left:920px;top:1823px;width:14px"></div>
<div class="h" style="left:920px;top:2490px;width:14px"></div>
<div class="v" style="left:977px;top:1837px;height:15px"></div>
<div class="v" style="left:977px;top:2062px;height:15px"></div>
<div class="v" style="left:977px;top:2137px;height:15px"></div>
<div class="v" style="left:977px;top:2505px;height:15px"></div>
<div class="v" style="left:976px;top:2584px;height:58px"></div>
<div class="h" style="left:977px;top:1844px;width:70px"></div>
<div class="h" style="left:977px;top:2068px;width:70px"></div>
<div class="h" style="left:977px;top:2144px;width:55px"></div>
<div class="h" style="left:977px;top:2513px;width:69px"></div>

<!-- XXV -->
<div class="b t" style="left:1047px;top:1834px">1875<br>Robert Graafland</div>
<div class="b l" style="left:1047px;top:1873px">1881<br>Maria Dequesne</div>
<div class="b c" style="left:1047px;top:1910px">1877<br>Albertin Graafland</div>
<div class="b c" style="left:1047px;top:1947px">1879<br>Francois Graafland</div>
<div class="b c" style="left:1047px;top:1983px">1880<br>Jeanne Graafland</div>
<div class="b c" style="left:1047px;top:2019px">1881<br>Leonie Graafland</div>
<div class="b c" style="left:1047px;top:2058px">1892<br>Sophia Graafland</div>
<div class="b c" style="left:1047px;top:2094px">1853<br>Willemina Hoorn</div>
<div class="b p" style="left:1047px;top:2133px">1844<br>Pieter Mersch</div>
<div class="b l" style="left:1047px;top:2171px">1855<br>Elisabeth Hoorn</div>
<div class="b c" style="left:1047px;top:2208px">1856<br>Maria Hoorn</div>
<div class="b c" style="left:1047px;top:2266px">1858<br>Willem Hoorn</div>
<div class="b t" style="left:1047px;top:2305px">1860<br>Pieter Hoorn</div>
<div class="b l" style="left:1047px;top:2346px">1866 &nbsp; Johanna<br>Schouwenburg</div>
<div class="b c" style="left:1047px;top:2385px">1862<br>Pierre Hoorn</div>
<div class="b c" style="left:1047px;top:2425px">1864<br>Herbertine Hoorn</div>
<div class="b p" style="left:1047px;top:2463px">1858<br>Willem Clifford</div>
<div class="b l" style="left:1047px;top:2502px">1857<br>Jeannette Hoorn</div>
<div class="b c" style="left:1047px;top:2539px">1861<br>Anna Hoorn</div>
<div class="b c" style="left:1047px;top:2576px">1865<br>Willemina Hoorn</div>
<div class="b c" style="left:1047px;top:2615px">1866<br>Frederik Hoorn</div>
<div class="b c" style="left:1047px;top:2654px">1868<br>Friedrich Hoorn</div>
<div class="b t" style="left:1047px;top:2692px">1873<br>Maurits Hoorn</div>
<div class="b l" style="left:1047px;top:2732px">1871<br>Maria Moltzer</div>
<div class="b t" style="left:1047px;top:2772px">1873<br>Alfred Hoorn</div>
<div class="b l" style="left:1047px;top:2813px">1872<br>Johanna Stroeve</div>
<div class="v" style="left:1032px;top:1844px;height:187px"></div>
<div class="h" style="left:1032px;top:1922px;width:15px"></div>
<div class="h" style="left:1032px;top:1959px;width:15px"></div>
<div class="h" style="left:1032px;top:1994px;width:15px"></div>
<div class="h" style="left:1032px;top:2030px;width:15px"></div>
<div class="v" style="left:1032px;top:2105px;height:332px"></div>
<div class="h" style="left:1032px;top:2105px;width:15px"></div>
<div class="h" style="left:1032px;top:2199px;width:15px"></div>
<div class="h" style="left:1032px;top:2238px;width:15px"></div>
<div class="h" style="left:1032px;top:2277px;width:15px"></div>
<div class="h" style="left:1032px;top:2316px;width:15px"></div>
<div class="h" style="left:1032px;top:2397px;width:15px"></div>
<div class="h" style="left:1032px;top:2436px;width:15px"></div>
<div class="v" style="left:1031px;top:2513px;height:271px"></div>
<div class="h" style="left:1031px;top:2550px;width:16px"></div>
<div class="h" style="left:1031px;top:2587px;width:16px"></div>
<div class="h" style="left:1031px;top:2627px;width:16px"></div>
<div class="h" style="left:1031px;top:2665px;width:16px"></div>
<div class="h" style="left:1031px;top:2703px;width:16px"></div>
<div class="h" style="left:1031px;top:2783px;width:16px"></div>
<div class="v" style="left:1088px;top:1858px;height:15px"></div>
<div class="v" style="left:1088px;top:2156px;height:15px"></div>
<div class="v" style="left:1088px;top:2330px;height:16px"></div>
<div class="v" style="left:1088px;top:2488px;height:14px"></div>
<div class="v" style="left:1088px;top:2717px;height:15px"></div>
<div class="v" style="left:1088px;top:2797px;height:16px"></div>

<!-- XXVI -->
<div class="b t" style="left:1158px;top:2327px">1888<br>Lucien Hoorn</div>
<div class="b l" style="left:1158px;top:2368px">1910<br>Katharine Philips</div>
<div class="b c" style="left:1158px;top:2406px">&nbsp;<br>Catharina Hoorn</div>
<div class="b c" style="left:1158px;top:2600px">1901<br>Quirijn Hoorn</div>
<div class="b c" style="left:1158px;top:2636px">1905<br>Eduard Hoorn</div>
<div class="b c" style="left:1158px;top:2675px">1908<br>Maria Hoorn</div>
<div class="b c" style="left:1158px;top:2713px">1913<br>Louise Hoorn</div>
<div class="b c" style="left:1158px;top:2755px">1906<br>Alfred Hoorn</div>
<div class="b c" style="left:1158px;top:2794px">1909<br>Henri Hoorn</div>
<div class="h" style="left:1088px;top:2338px;width:70px"></div>
<div class="v" style="left:1145px;top:2338px;height:80px"></div>
<div class="h" style="left:1145px;top:2417px;width:13px"></div>
<div class="v" style="left:1199px;top:2352px;height:16px"></div>
<div class="v" style="left:1145px;top:2610px;height:115px"></div>
<div class="h" style="left:1145px;top:2610px;width:13px"></div>
<div class="h" style="left:1145px;top:2647px;width:13px"></div>
<div class="h" style="left:1145px;top:2685px;width:13px"></div>
<div class="h" style="left:1088px;top:2724px;width:70px"></div>
<div class="v" style="left:1146px;top:2767px;height:39px"></div>
<div class="h" style="left:1146px;top:2767px;width:12px"></div>
<div class="h" style="left:1088px;top:2805px;width:70px"></div>

</div></div></body></html>
